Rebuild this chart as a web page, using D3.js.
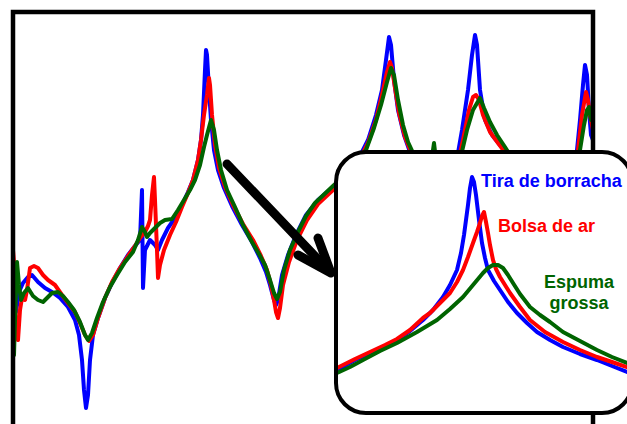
<!DOCTYPE html>
<html>
<head>
<meta charset="utf-8">
<script src="https://cdn.jsdelivr.net/npm/d3@7"></script>
<style>
  html, body { margin: 0; padding: 0; background: #fff; }
  svg { display: block; }
</style>
</head>
<body>
<script>
// Frequency response of three damping treatments (x: frequency offset, y: amplitude)
const seriesNames = ["Tira de borracha", "Bolsa de ar", "Espuma grossa"];
const seriesColors = ["#0000ff", "#ff0000", "#006400"];

const blueMain = [[1,12.4],[3,11.2],[6,13.2],[10,14.1],[15,14.7],[19,14.9],[25,14.2],[32,13.6],[39,13.2],[47,12.6],[55,11.7],[62,10.4],[66,8.9],[69,6.4],[71,3.4],[73,1.6],[75,2.9],[77,6.4],[80,8.9],[85,10.6],[92,12.6],[99,14.1],[107,15.6],[115,16.9],[122,17.8],[127,18.4],[129,23.4],[130,13.6],[132,17.4],[137,18.4],[142,17.9],[145,17.4],[149,18.4],[155,19.6],[162,20.6],[169,21.9],[175,23.2],[180,24.4],[185,26.4],[188,28.4],[190,30.9],[192,35.4],[193,37.4],[194,36.9],[196,33.4],[198,30.4],[201,27.4],[205,25.4],[211,23.6],[219,21.8],[229,19.9],[239,18.2],[247,16.6],[253,15.2],[257,13.9],[261,12.4],[263,11.9],[265,12.4],[269,14.9],[275,16.9],[283,18.9],[293,20.9],[305,22.4],[320,23.7],[332,24.9],[345,26.4],[355,28.4],[363,30.9],[369,33.4],[373,36.4],[376,38.7],[378,37.9],[381,34.4],[385,31.4],[391,28.9],[397,27.2],[407,24.9],[417,23.4],[432,22.9],[442,25.4],[449,29.4],[455,33.4],[459,36.9],[462,38.9],[464,37.9],[467,33.4],[472,30.4],[479,28.9],[487,27.9],[494,27.2],[507,25.4],[527,23.9],[547,23.9],[559,25.4],[564,27.4],[567,30.4],[570,33.9],[572,35.9],[574,34.9],[576,31.4],[578,28.9],[580,28.4]];

const redMain = [[0,17.4],[1,16.2],[3,9.4],[5,8.4],[7,11.4],[9,12.6],[12,12.4],[14,13.4],[17,15.6],[21,15.8],[25,15.6],[30,14.9],[35,14.4],[42,13.9],[49,12.9],[55,12.1],[62,11.2],[67,10.1],[72,8.9],[76,8.3],[80,8.9],[85,10.6],[92,12.6],[99,14.2],[107,15.6],[115,16.8],[122,17.8],[127,18.6],[132,19.2],[135,19.8],[137,20.4],[139,22.9],[141,24.7],[142,22.4],[144,17.4],[145,14.6],[147,15.9],[151,17.4],[157,18.9],[163,20.2],[169,21.7],[175,23.1],[180,24.4],[185,26.4],[188,28.4],[191,30.9],[194,32.9],[196,34.6],[197,33.9],[199,30.9],[202,27.9],[206,25.6],[212,23.7],[220,21.9],[230,20.0],[240,18.4],[248,16.8],[254,15.4],[258,13.9],[261,12.4],[263,11.2],[265,10.6],[267,11.6],[270,13.9],[276,16.2],[284,18.4],[294,20.4],[305,22.0],[320,23.4],[332,24.6],[345,26.1],[355,28.1],[363,30.4],[369,32.9],[374,35.2],[377,36.2],[379,35.6],[382,33.6],[386,31.1],[392,28.7],[398,27.2],[407,25.4],[419,23.6],[433,23.1],[443,25.2],[450,28.4],[456,31.4],[460,32.7],[463,32.9],[466,32.4],[470,30.9],[477,29.2],[485,28.1],[494,26.9],[507,25.2],[527,23.8],[547,23.8],[559,25.2],[565,27.4],[569,30.9],[573,33.2],[575,32.4],[577,30.9],[580,29.4]];

const greenMain = [[1,6.9],[2,10.4],[4,16.2],[6,13.9],[8,12.4],[11,13.1],[15,13.6],[20,12.8],[25,12.4],[30,12.2],[35,12.7],[39,13.1],[45,13.2],[50,12.8],[55,12.2],[61,11.4],[67,10.2],[72,8.9],[75,8.4],[79,9.1],[84,10.6],[90,12.2],[97,13.7],[104,14.9],[112,16.2],[120,17.2],[125,18.4],[129,19.7],[132,19.2],[134,18.7],[137,19.1],[142,19.6],[147,20.1],[152,20.4],[159,20.5],[165,21.4],[171,22.4],[177,23.4],[182,24.4],[187,25.9],[191,27.7],[194,28.9],[198,30.4],[201,29.4],[204,27.4],[208,25.4],[214,23.4],[222,21.7],[230,19.9],[239,18.2],[246,17.0],[252,15.9],[257,14.4],[261,13.1],[264,12.5],[267,13.2],[271,15.4],[277,17.4],[285,19.2],[293,20.8],[302,22.1],[320,23.8],[332,24.9],[344,26.1],[353,27.4],[361,29.6],[368,31.9],[374,34.2],[378,35.6],[381,34.9],[385,32.4],[390,29.9],[395,28.2],[401,26.9],[411,25.2],[417,25.4],[420,27.4],[421,28.1],[423,26.4],[427,23.9],[437,23.9],[447,26.4],[454,29.4],[460,31.4],[467,32.6],[471,31.6],[477,30.2],[484,28.9],[492,27.7],[499,26.6],[512,25.2],[527,23.9],[547,23.8],[562,25.4],[567,27.4],[571,29.9],[574,31.4],[576,31.7],[578,30.4]];

// Zoomed view around the second resonance
const blueZoom = [[0,4.3],[18,5.3],[33,6.0],[48,6.7],[60,7.3],[73,8.2],[86,9.3],[96,10.3],[106,11.6],[113,12.8],[120,14.3],[124,16.0],[127,17.8],[129,19.3],[131,20.8],[133,22.5],[135,23.6],[137,23.1],[139,21.8],[142,19.3],[145,17.0],[148,15.5],[151,14.3],[157,13.2],[163,12.3],[171,11.1],[180,10.0],[190,9.0],[200,8.1],[213,7.3],[226,6.6],[243,5.9],[260,5.3],[275,4.7],[290,4.1]];

const redZoom = [[0,4.5],[18,5.4],[33,6.1],[48,6.8],[60,7.4],[73,8.3],[86,9.5],[93,10.0],[103,11.0],[113,12.0],[120,13.1],[126,14.3],[131,15.6],[136,17.0],[140,18.1],[143,19.0],[145,19.7],[147,20.1],[149,19.1],[151,18.0],[153,16.8],[156,15.3],[159,14.4],[163,13.6],[168,12.8],[173,12.0],[183,10.6],[193,9.3],[208,8.1],[226,7.1],[243,6.3],[260,5.6],[275,5.1],[290,4.6]];

const greenZoom = [[0,4.0],[13,4.6],[26,5.3],[43,6.2],[60,7.0],[80,8.1],[100,9.3],[113,10.4],[126,11.6],[136,12.8],[146,14.0],[151,14.5],[156,14.8],[161,14.8],[166,14.5],[171,13.8],[176,13.0],[183,11.9],[193,10.6],[203,9.8],[213,9.1],[226,8.1],[243,7.2],[260,6.3],[275,5.6],[290,5.0]];

const mainSeries = [blueMain, redMain, greenMain];
const zoomSeries = [blueZoom, redZoom, greenZoom];

const W = 627, H = 424;
const svg = d3.select("body").append("svg")
  .attr("width", W).attr("height", H)
  .attr("viewBox", `0 0 ${W} ${H}`);

// Main plot area
const frame = { x0: 13, y0: 12, x1: 593, y1: 440 };
const x = d3.scaleLinear().domain([0, 580]).range([13, 593]);
const y = d3.scaleLinear().domain([0, 41.1]).range([424, 13]);

svg.append("clipPath").attr("id", "plotClip")
  .append("rect")
  .attr("x", frame.x0 + 2).attr("y", frame.y0 + 2)
  .attr("width", frame.x1 - frame.x0 - 4).attr("height", frame.y1 - frame.y0);

const line = d3.line().x(d => x(d[0])).y(d => y(d[1]));

svg.append("g").attr("clip-path", "url(#plotClip)")
  .selectAll("path").data(mainSeries).join("path")
  .attr("d", line)
  .attr("fill", "none")
  .attr("stroke", (d, i) => seriesColors[i])
  .attr("stroke-width", 4)
  .attr("stroke-linejoin", "round")
  .attr("stroke-linecap", "round");

svg.append("rect")
  .attr("x", frame.x0).attr("y", frame.y0)
  .attr("width", frame.x1 - frame.x0).attr("height", frame.y1 - frame.y0)
  .attr("fill", "none").attr("stroke", "#000").attr("stroke-width", 4.5);

// Arrow pointing from the main resonance to the zoomed view
const arrow = svg.append("g")
  .attr("stroke", "#000").attr("stroke-width", 9)
  .attr("stroke-linecap", "round").attr("fill", "none");
arrow.append("line").attr("x1", 227).attr("y1", 164).attr("x2", 330).attr("y2", 272);
arrow.append("polyline").attr("points", "318,238 331,273 298,255")
  .attr("stroke-linejoin", "round");

// Zoomed inset
const inset = { x: 336, y: 152, w: 296, h: 261, r: 30 };
const xi = d3.scaleLinear().domain([0, 290]).range([337, 627]);
const yi = d3.scaleLinear().domain([0, 26.1]).range([413, 152]);

svg.append("clipPath").attr("id", "insetClip")
  .append("rect")
  .attr("x", inset.x).attr("y", inset.y)
  .attr("width", inset.w).attr("height", inset.h).attr("rx", inset.r);

svg.append("rect")
  .attr("x", inset.x).attr("y", inset.y)
  .attr("width", inset.w).attr("height", inset.h).attr("rx", inset.r)
  .attr("fill", "#fff");

const lineZ = d3.line().x(d => xi(d[0])).y(d => yi(d[1]));
svg.append("g").attr("clip-path", "url(#insetClip)")
  .selectAll("path").data(zoomSeries).join("path")
  .attr("d", lineZ)
  .attr("fill", "none")
  .attr("stroke", (d, i) => seriesColors[i])
  .attr("stroke-width", 4)
  .attr("stroke-linejoin", "round")
  .attr("stroke-linecap", "round");

svg.append("rect")
  .attr("x", inset.x).attr("y", inset.y)
  .attr("width", inset.w).attr("height", inset.h).attr("rx", inset.r)
  .attr("fill", "none").attr("stroke", "#000").attr("stroke-width", 4);

// Series labels
const font = "'Liberation Sans', Arial, sans-serif";
const labels = svg.append("g")
  .attr("font-family", font).attr("font-weight", "bold").attr("font-size", 18);

labels.append("text").attr("x", 481).attr("y", 187)
  .attr("fill", seriesColors[0]).text(seriesNames[0]);
labels.append("text").attr("x", 498).attr("y", 232)
  .attr("fill", seriesColors[1]).text(seriesNames[1]);

const foam = seriesNames[2].split(" ");
labels.append("text").attr("x", 579).attr("y", 288)
  .attr("text-anchor", "middle").attr("fill", seriesColors[2]).text(foam[0]);
labels.append("text").attr("x", 579).attr("y", 309)
  .attr("text-anchor", "middle").attr("fill", seriesColors[2]).text(foam[1]);
</script>
</body>
</html>
